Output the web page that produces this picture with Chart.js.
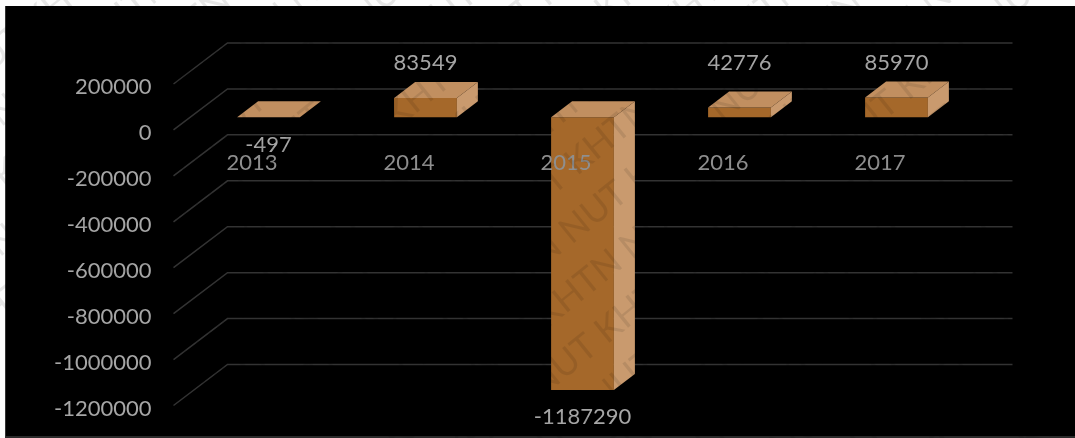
<!DOCTYPE html>
<html>
<head>
<meta charset="utf-8">
<script src="https://cdn.jsdelivr.net/npm/chart.js@4"></script>
<style>
  html, body { margin: 0; background: #fdfdfd; overflow: hidden; }
  #panel { position: absolute; left: 5px; top: 6px; width: 1069px; height: 430px; background: #000; border-left: 1px solid #333; border-bottom: 2px solid #2b2b2b; }
  #myChart { position: absolute; left: 0; top: 0; }
</style>
</head>
<body>
<div id="panel"></div>
<canvas id="myChart" width="1075" height="438"></canvas>
<script>
const years = ["2013", "2014", "2015", "2016", "2017"];
const profit = [-497, 83549, -1187290, 42776, 85970];
const valueTicks = [200000, 0, -200000, -400000, -600000, -800000, -1000000, -1200000];

// offsets of the fake 3d box, in px
const lift = -3;
const wallDx = 54, wallDy = -41;
const barDx = 16.5, barDy = -12.7 + lift;
const depthDx = 21, depthDy = -16;

const textColor = "#a6a6a6";
const yearColor = "#8f8f8f";
const stamp = "KHTN NUT ";

// floor lines running from the axis back to the wall, then along the wall
const gridPlugin = {
  id: "grid3d",
  beforeDatasetsDraw(chart) {
    const ctx = chart.ctx;
    const { left, right } = chart.chartArea;
    const y = chart.scales.y;
    ctx.save();
    ctx.lineWidth = 1.5;
    ctx.strokeStyle = "#333333";
    valueTicks.forEach((v) => {
      const py = y.getPixelForValue(v) + lift;
      ctx.beginPath();
      ctx.moveTo(left, py);
      ctx.lineTo(left + wallDx, py + wallDy);
      ctx.lineTo(right + wallDx, py + wallDy);
      ctx.stroke();
    });
    ctx.restore();
    // bars sit between the axis and the wall
    ctx.save();
    ctx.translate(barDx, barDy);
  },
  afterDatasetsDraw(chart) {
    const ctx = chart.ctx;
    const meta = chart.getDatasetMeta(0);
    meta.data.forEach((bar) => {
      const x0 = bar.x - bar.width / 2;
      const x1 = bar.x + bar.width / 2;
      const top = Math.min(bar.y, bar.base);
      const bottom = Math.max(bar.y, bar.base);
      // right side
      ctx.fillStyle = "#c99a6e";
      ctx.beginPath();
      ctx.moveTo(x1, top);
      ctx.lineTo(x1 + depthDx, top + depthDy);
      ctx.lineTo(x1 + depthDx, bottom + depthDy);
      ctx.lineTo(x1, bottom);
      ctx.closePath();
      ctx.fill();
      // top side
      ctx.fillStyle = "#c18f60";
      ctx.beginPath();
      ctx.moveTo(x0, top);
      ctx.lineTo(x0 + depthDx, top + depthDy);
      ctx.lineTo(x1 + depthDx, top + depthDy);
      ctx.lineTo(x1, top);
      ctx.closePath();
      ctx.fill();
    });
    ctx.restore();

    // value labels above or below each bar
    ctx.save();
    ctx.font = "22px Lato";
    ctx.fillStyle = textColor;
    ctx.textAlign = "center";
    ctx.textBaseline = "middle";
    const labelY = chart.scales.y;
    profit.forEach((v, i) => {
      const bar = meta.data[i];
      const cx = bar.x + barDx;
      if (v >= 0) {
        ctx.fillText(String(v), cx, labelY.getPixelForValue(200000) - 24);
      } else {
        ctx.fillText(String(v), cx, bar.y + barDy + 27.5);
      }
    });
    ctx.restore();
  },
  // faint diagonal stamp, only shows on the bars and the page margin
  afterDraw(chart) {
    const ctx = chart.ctx;
    ctx.save();
    ctx.rotate((-39 * Math.PI) / 180);
    ctx.font = "36px Lato";
    ctx.fillStyle = "rgba(0, 0, 0, 0.09)";
    for (let row = -2; row < 22; row++) {
      ctx.fillText(stamp.repeat(12), -420 + row * 37, row * 50);
    }
    ctx.restore();
  },
};

new Chart(document.getElementById("myChart"), {
  type: "bar",
  data: {
    labels: years,
    datasets: [
      {
        data: profit,
        backgroundColor: "#a5682a",
        barPercentage: 0.4,
        categoryPercentage: 1,
      },
    ],
  },
  options: {
    responsive: false,
    animation: false,
    layout: { padding: { left: 0, top: 87, right: 116.5, bottom: 29.5 } },
    plugins: {
      legend: { display: false },
      title: { display: false },
      tooltip: { enabled: false },
    },
    scales: {
      x: {
        position: { y: 0 },
        grid: { display: false },
        border: { display: false },
        ticks: {
          z: 1,
          color: yearColor,
          font: { family: "Lato", size: 22 },
          padding: 9,
          maxRotation: 0,
        },
      },
      y: {
        min: -1200000,
        max: 200000,
        afterFit(scale) {
          scale.width = 173.5;
        },
        afterBuildTicks(scale) {
          scale.ticks = valueTicks.map((v) => ({ value: v }));
        },
        grid: { display: false },
        border: { display: false },
        ticks: {
          color: textColor,
          font: { family: "Lato", size: 22 },
          padding: 14,
          callback: (v) => String(v),
        },
      },
    },
  },
  plugins: [gridPlugin],
});
</script>
</body>
</html>
